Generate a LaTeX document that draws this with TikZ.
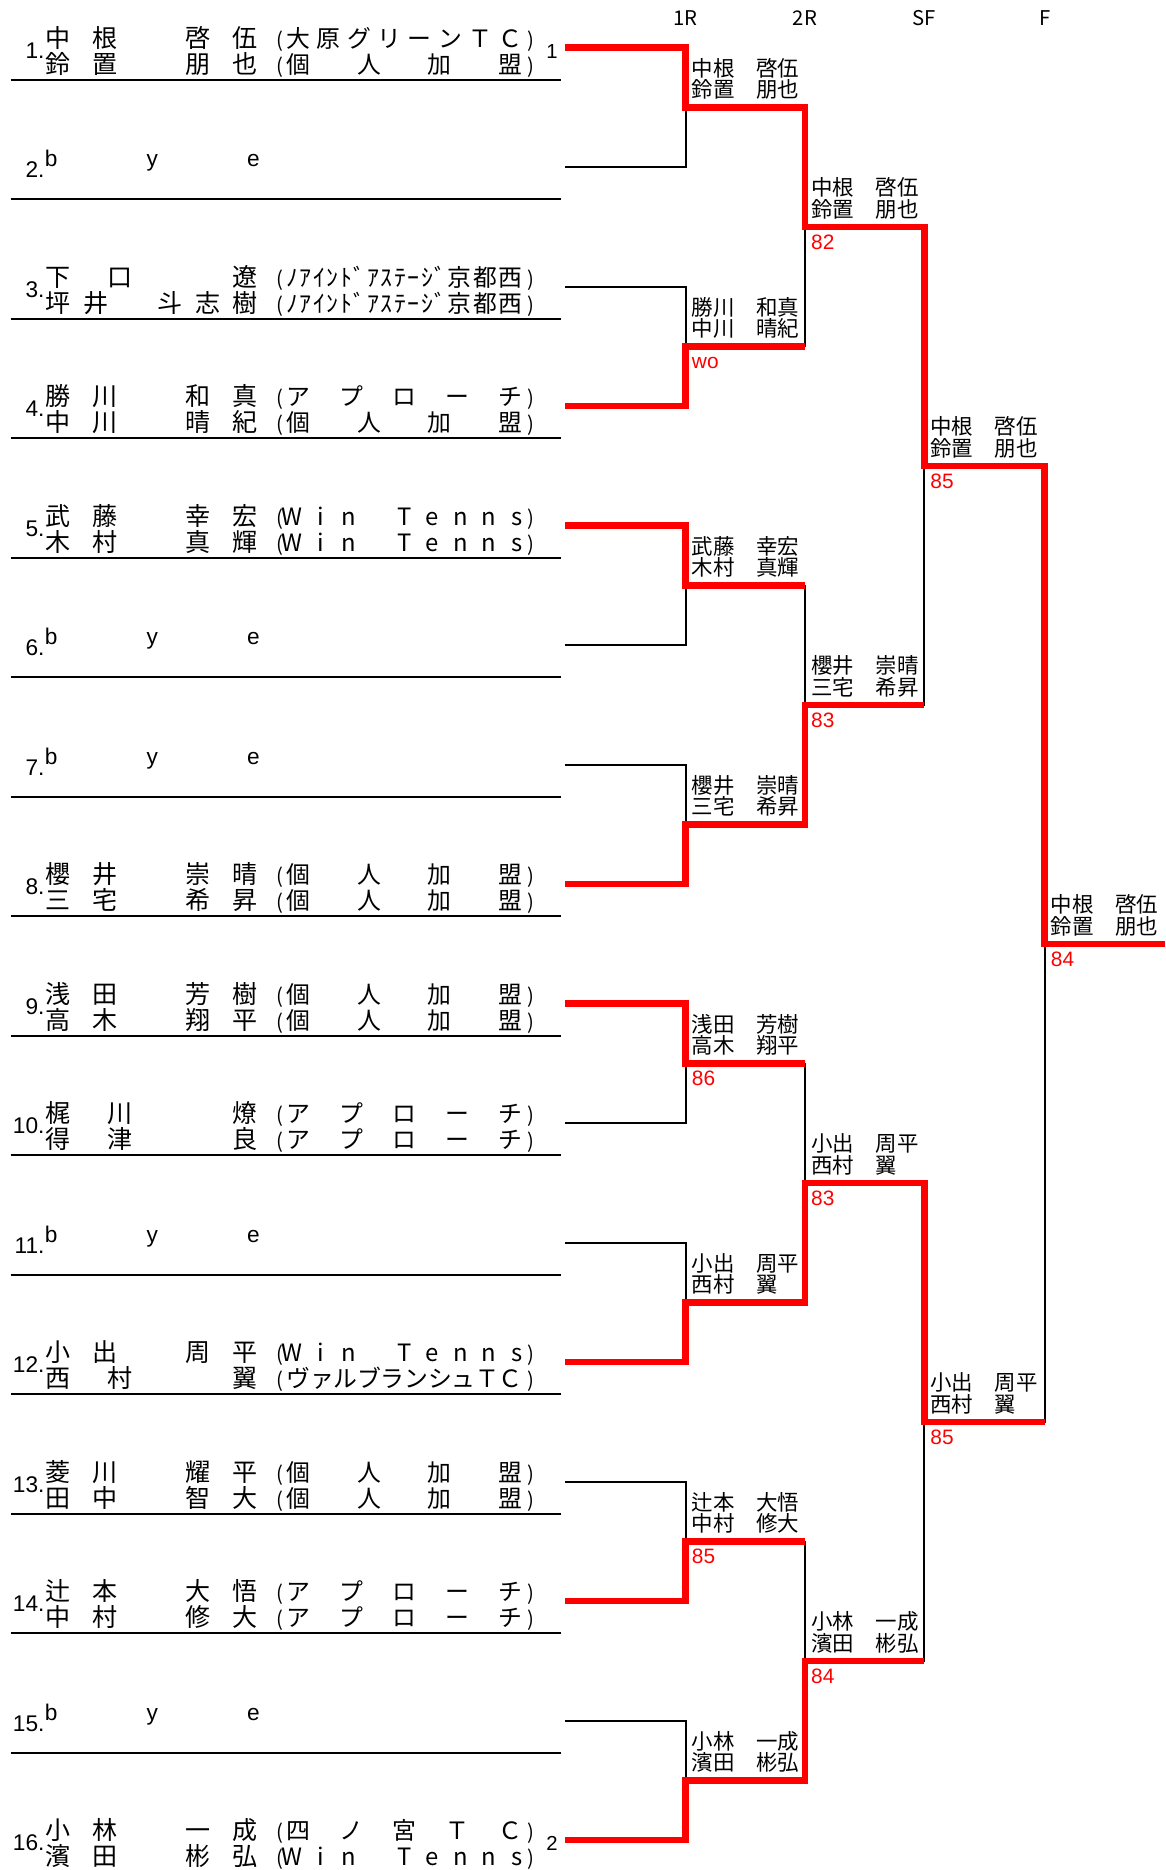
\documentclass[tikz,border=0pt]{standalone}
\usepackage{fontspec}
\setmainfont{Liberation Sans}
\newfontfamily\jp{Noto Sans CJK JP}
\definecolor{win}{RGB}{255,0,0}

\makeatletter
% distribute single tokens evenly (equal gaps) over a box of given width
\newcommand\distr[2]{\hbox to #1{\distr@a#2\relax}}
\def\distr@a#1{#1\distr@b}
\def\distr@b#1{\ifx\relax#1\else\hss#1\expandafter\distr@b\fi}
% same, each token centred in a half-width cell
\newcommand\distrL[2]{\hbox to #1{\distrL@a#2\relax}}
\def\distrL@a#1{\hbox to .5em{\hss#1\hss}\distrL@b}
\def\distrL@b#1{\ifx\relax#1\else\hss\hbox to .5em{\hss#1\hss}\expandafter\distrL@b\fi}
\makeatother

\newcommand\clubJ[1]{\distr{198pt}{#1}}
\newcommand\clubL[1]{\distrL{198pt}{#1}}
\newcommand\clubbox[1]{\llap{{\fontsize{17}{17}\selectfont(}\kern3pt}#1\rlap{\kern4pt{\fontsize{17}{17}\selectfont)}}}

\newcommand\player[5]{%
  \pgfmathsetmacro\LL{40+100.2*(#1-1)}%
  \node[numt] (num#1) at (37.5,\LL+9) {#1.};
  \node[namet] (nameA#1) at (38,\LL-0.5) {\distr{178pt}{#2}};
  \node[clubt] (clubA#1) at (240,\LL-0.5) {\clubbox{#3}};
  \node[namet] (nameB#1) at (38,\LL+21.5) {\distr{178pt}{#4}};
  \node[clubt] (clubB#1) at (240,\LL+21.5) {\clubbox{#5}};
  \ifnum#1<16 \draw[rule] (9,\LL+27) -- (470,\LL+27);\fi
}
\newcommand\byeentry[1]{%
  \pgfmathsetmacro\LL{40+100.2*(#1-1)}%
  \node[numt] (num#1) at (37.5,\LL+9) {#1.};
  \node[byet] (bye#1) at (38,\LL-0.5) {\distrL{179pt}{bye}};
  \draw[rule] (9,\LL+27) -- (470,\LL+27);
}
\newcommand\mlab[3]{%
  \node[labt] (#1t) at ([xshift=5pt,yshift=26pt]#1) {#2};
  \node[labt] (#1b) at ([xshift=5pt,yshift=8pt]#1) {#3};
}
\newcommand\mscore[2]{\node[scoret] (#1s) at ([xshift=5pt,yshift=-18.5pt]#1) {#2};}

\begin{document}
\begin{tikzpicture}[x=1pt,y=-1pt,
  bline/.style={line width=1.6pt, line join=miter},
  rline/.style={line width=5.5pt, draw=win, line join=miter},
  rule/.style={line width=1.6pt},
  numt/.style={anchor=base east, inner sep=0pt, font=\fontsize{19}{19}\selectfont},
  seedt/.style={anchor=base west, inner sep=0pt, font=\fontsize{17}{17}\selectfont},
  namet/.style={anchor=base west, inner sep=0pt, font=\jp\fontsize{21}{21}\selectfont},
  clubt/.style={anchor=base west, inner sep=0pt, font=\jp\fontsize{20}{20}\selectfont},
  byet/.style={anchor=base west, inner sep=0pt, font=\fontsize{19}{19}\selectfont},
  labt/.style={anchor=base west, inner sep=0pt, font=\jp\fontsize{18}{18}\selectfont},
  scoret/.style={anchor=base west, inner sep=0pt, text=win, font=\fontsize{17.5}{17.5}\selectfont},
  roundt/.style={anchor=base, inner sep=0pt, font=\jp\fontsize{17}{17}\selectfont}]
\fill[white] (0,0) rectangle (977,1568);
\useasboundingbox (0,0) rectangle (977,1568);

% round headings
\node[roundt] (r1) at (575,21) {1R};
\node[roundt] (r2) at (675,21) {2R};
\node[roundt] (r3) at (775,21) {SF};
\node[roundt] (r4) at (876,21) {F};

% draw entries
\player{1}{中根　啓伍}{\clubJ{大原グリーンＴＣ}}{鈴置　朋也}{\clubJ{個人加盟}}
\byeentry{2}
\player{3}{下口　遼}{\clubJ{ﾉｱｲﾝﾄﾞｱｽﾃｰｼﾞ京都西}}{坪井　斗志樹}{\clubJ{ﾉｱｲﾝﾄﾞｱｽﾃｰｼﾞ京都西}}
\player{4}{勝川　和真}{\clubJ{アプローチ}}{中川　晴紀}{\clubJ{個人加盟}}
\player{5}{武藤　幸宏}{\clubL{Win~Tenns}}{木村　真輝}{\clubL{Win~Tenns}}
\byeentry{6}
\byeentry{7}
\player{8}{櫻井　崇晴}{\clubJ{個人加盟}}{三宅　希昇}{\clubJ{個人加盟}}
\player{9}{浅田　芳樹}{\clubJ{個人加盟}}{高木　翔平}{\clubJ{個人加盟}}
\player{10}{梶川　燎}{\clubJ{アプローチ}}{得津　良}{\clubJ{アプローチ}}
\byeentry{11}
\player{12}{小出　周平}{\clubL{Win~Tenns}}{西村　翼}{\clubJ{ヴァルブランシュＴＣ}}
\player{13}{菱川　耀平}{\clubJ{個人加盟}}{田中　智大}{\clubJ{個人加盟}}
\player{14}{辻本　大悟}{\clubJ{アプローチ}}{中村　修大}{\clubJ{アプローチ}}
\byeentry{15}
\player{16}{小林　一成}{\clubJ{四ノ宮ＴＣ}}{濱田　彬弘}{\clubL{Win~Tenns}}

% seeds
\node[seedt] (seed1) at (458,49) {1};
\node[seedt] (seed2) at (458,1552) {2};

% bracket coordinates
\foreach \i in {1,...,16}{\pgfmathsetmacro\Y{40+100.2*(\i-1)}\coordinate (s\i) at (474,\Y);}
\foreach \m in {1,...,8}{\pgfmathsetmacro\Y{40+100.2*(2*\m-1.5)}\coordinate (a\m) at (575,\Y);}
\foreach \m in {1,...,4}{\pgfmathsetmacro\Y{40+100.2*(4*\m-2.5)}\coordinate (b\m) at (675,\Y);}
\foreach \m in {1,2}{\pgfmathsetmacro\Y{40+100.2*(8*\m-4.5)}\coordinate (c\m) at (775,\Y);}
\coordinate (d) at (876,791.5);
\coordinate (e) at (977,791.5);

% black bracket
\foreach \m in {1,...,8}{%
  \pgfmathtruncatemacro\ii{2*\m-1}\pgfmathtruncatemacro\jj{2*\m}\pgfmathtruncatemacro\nn{(\m+1)/2}%
  \draw[bline] (s\ii) -| (a\m);
  \draw[bline] (s\jj) -| (a\m);
  \draw[bline] (a\m) -| (b\nn);
}
\foreach \n in {1,...,4}{\pgfmathtruncatemacro\cc{(\n+1)/2}\draw[bline] (b\n) -| (c\cc);}
\draw[bline] (c1) -| (d);
\draw[bline] (c2) -| (d);
\draw[bline] (d) -- (e);

% winners in red
\draw[rline] (s1) -| (a1) -| (b1) -| (c1) -| (d) -- (e);
\draw[rline] (s4) -| (a2) -- (a2 -| b1);
\draw[rline] (s5) -| (a3) -- (a3 -| b2);
\draw[rline] (s8) -| (a4) -| (b2) -- (b2 -| c1);
\draw[rline] (s9) -| (a5) -- (a5 -| b3);
\draw[rline] (s12) -| (a6) -| (b3) -| (c2) -- (c2 -| d);
\draw[rline] (s14) -| (a7) -- (a7 -| b4);
\draw[rline] (s16) -| (a8) -| (b4) -- (b4 -| c2);

% bracket labels
\mlab{a1}{中根　啓伍}{鈴置　朋也}
\mlab{a2}{勝川　和真}{中川　晴紀}\mscore{a2}{wo}
\mlab{a3}{武藤　幸宏}{木村　真輝}
\mlab{a4}{櫻井　崇晴}{三宅　希昇}
\mlab{a5}{浅田　芳樹}{高木　翔平}\mscore{a5}{86}
\mlab{a6}{小出　周平}{西村　翼}
\mlab{a7}{辻本　大悟}{中村　修大}\mscore{a7}{85}
\mlab{a8}{小林　一成}{濱田　彬弘}
\mlab{b1}{中根　啓伍}{鈴置　朋也}\mscore{b1}{82}
\mlab{b2}{櫻井　崇晴}{三宅　希昇}\mscore{b2}{83}
\mlab{b3}{小出　周平}{西村　翼}\mscore{b3}{83}
\mlab{b4}{小林　一成}{濱田　彬弘}\mscore{b4}{84}
\mlab{c1}{中根　啓伍}{鈴置　朋也}\mscore{c1}{85}
\mlab{c2}{小出　周平}{西村　翼}\mscore{c2}{85}
\mlab{d}{中根　啓伍}{鈴置　朋也}\mscore{d}{84}
\end{tikzpicture}
\end{document}
